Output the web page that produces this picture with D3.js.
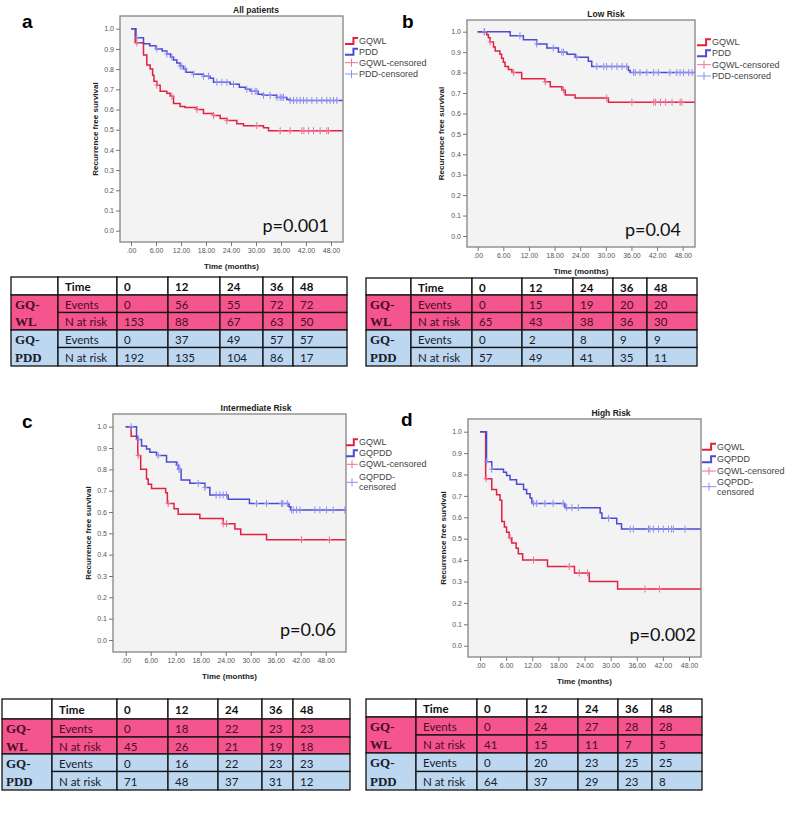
<!DOCTYPE html>
<html><head><meta charset="utf-8">
<script src="https://cdn.jsdelivr.net/npm/d3@7"></script>
<style>body{margin:0;background:#fff}</style>
</head><body>
<script>
// ---------------- DATA ----------------
const xTicks = [0, 6, 12, 18, 24, 30, 36, 42, 48];
const yTicks = [0, 0.1, 0.2, 0.3, 0.4, 0.5, 0.6, 0.7, 0.8, 0.9, 1.0];
const tableTimes = ["0", "12", "24", "36", "48"];
const titles = ["All patients", "Low Risk", "Intermediate Risk", "High Risk"];
const pValues = ["p=0.001", "p=0.04", "p=0.06", "p=0.002"];
const panelLetters = ["a", "b", "c", "d"];
const legendAB = ["GQWL", "PDD", "GQWL-censored", "PDD-censored"];
const legendCD = ["GQWL", "GQPDD", "GQWL-censored", "GQPDD-", "censored"];
const groupNames = [["GQ-", "WL"], ["GQ-", "PDD"]];
const rowNames = ["Events", "N at risk"];

// Panel a: All patients
const aWL_t = [1.0, 3.0, 3.8, 4.6, 5.2, 5.5, 6.2, 7.0, 8.6, 9.4, 10.2, 11.8, 13.0, 15.8, 17.4, 19.8, 21.4, 23.0, 25.4, 27.0, 31.8, 33.0];
const aWL_s = [0.93, 0.87, 0.82, 0.80, 0.77, 0.74, 0.72, 0.69, 0.68, 0.665, 0.63, 0.615, 0.61, 0.60, 0.58, 0.57, 0.555, 0.545, 0.53, 0.52, 0.51, 0.495];
const aWL_cens = [1.4, 6.2, 9.8, 15.8, 19.8, 23.0, 30.2, 35.8, 38.2, 41.0, 41.5, 42.6, 43.8, 45.4, 47.0, 47.4];
const aPD_t = [1.2, 3.0, 4.5, 6.0, 7.5, 8.6, 9.5, 10.2, 11.0, 11.8, 12.6, 13.2, 15.0, 17.4, 19.0, 19.8, 23.8, 26.0, 27.5, 28.6, 30.5, 31.8, 35.0, 37.4, 38.2];
const aPD_s = [0.955, 0.925, 0.915, 0.90, 0.89, 0.875, 0.86, 0.845, 0.83, 0.815, 0.80, 0.785, 0.775, 0.765, 0.755, 0.735, 0.725, 0.71, 0.70, 0.69, 0.675, 0.67, 0.66, 0.65, 0.645];
const aPD_cens = [1.4, 6.2, 8.6, 9.8, 11.8, 12.2, 13.0, 15.0, 17.4, 18.6, 20.6, 21.8, 23.0, 24.6, 27.8, 29.0, 29.8, 30.2, 31.8, 33.4, 35.0, 35.8, 36.2, 36.6, 38.2, 39.0, 39.8, 40.6, 41.4, 42.2, 43.4, 44.6, 45.8, 47.0, 47.8, 48.6, 49.4];
const aWL_events = [0, 56, 55, 72, 72], aWL_risk = [153, 88, 67, 63, 50];
const aPD_events = [0, 37, 49, 57, 57], aPD_risk = [192, 135, 104, 86, 17];

// Panel b: Low Risk
const bWL_t = [2.1, 2.5, 2.9, 3.7, 4.1, 5.2, 5.6, 6.0, 6.4, 7.2, 8.0, 10.3, 15.8, 17.0, 19.7, 20.5, 22.8, 30.6];
const bWL_s = [0.985, 0.97, 0.95, 0.925, 0.905, 0.89, 0.87, 0.85, 0.83, 0.815, 0.80, 0.77, 0.755, 0.73, 0.715, 0.69, 0.675, 0.655];
const bWL_cens = [1.5, 2.9, 8.4, 15.8, 20.1, 30.2, 36.1, 41.2, 41.6, 42.8, 44.0, 45.5, 47.4, 47.8];
const bPD_t = [7.6, 10.7, 13.8, 16.2, 18.9, 20.9, 22.8, 25.9, 26.7, 35.3, 35.7];
const bPD_s = [0.98, 0.96, 0.94, 0.92, 0.90, 0.89, 0.875, 0.855, 0.83, 0.81, 0.80];
const bPD_cens = [1.6, 9.9, 13.8, 17.7, 19.7, 20.1, 23.2, 27.9, 29.5, 30.2, 31.4, 32.6, 33.8, 34.9, 36.5, 36.9, 38.0, 39.6, 41.2, 42.3, 45.0, 46.6, 47.4, 48.2, 49.4, 50.2];
const bWL_events = [0, 15, 19, 20, 20], bWL_risk = [65, 43, 38, 36, 30];
const bPD_events = [0, 2, 8, 9, 9], bPD_risk = [57, 49, 41, 35, 11];

// Panel c: Intermediate Risk
const cWL_t = [1.3, 2.9, 3.6, 5.0, 5.4, 6.2, 9.6, 10.0, 11.6, 12.6, 17.8, 23.4, 26.2, 27.6, 33.8];
const cWL_s = [0.955, 0.865, 0.80, 0.755, 0.73, 0.71, 0.69, 0.64, 0.615, 0.59, 0.57, 0.545, 0.52, 0.495, 0.47];
const cWL_cens = [3.0, 10.2, 23.4, 24.2, 42.2, 48.9];
const cPD_t = [2.6, 3.8, 5.0, 5.8, 7.4, 9.8, 12.2, 12.6, 13.3, 15.4, 19.0, 20.2, 24.6, 29.7, 39.2, 39.6];
const cPD_s = [0.94, 0.91, 0.895, 0.88, 0.865, 0.835, 0.82, 0.80, 0.75, 0.735, 0.715, 0.68, 0.66, 0.64, 0.625, 0.61];
const cPD_cens = [1.3, 3.0, 7.8, 12.5, 12.8, 13.0, 17.4, 19.0, 21.7, 22.6, 23.4, 24.2, 31.4, 33.8, 37.4, 37.7, 38.8, 39.8, 40.2, 41.0, 41.8, 45.4, 46.6, 48.2, 49.8, 52.6];
const cWL_events = [0, 18, 22, 23, 23], cWL_risk = [45, 26, 21, 19, 18];
const cPD_events = [0, 16, 22, 23, 23], cPD_risk = [71, 48, 37, 31, 12];

// Panel d: High Risk
const dWL_t = [1.3, 2.7, 3.8, 4.6, 5.0, 5.6, 6.1, 6.7, 7.3, 8.3, 8.8, 9.8, 15.5, 21.7, 25.1, 31.6];
const dWL_s = [0.78, 0.73, 0.705, 0.68, 0.58, 0.555, 0.53, 0.505, 0.48, 0.455, 0.43, 0.40, 0.37, 0.34, 0.30, 0.265];
const dWL_cens = [1.4, 6.9, 12.3, 20.5, 22.8, 24.7, 37.9, 41.2];
const dPD_t = [1.5, 2.7, 5.4, 6.1, 6.9, 8.4, 10.0, 10.7, 11.5, 11.9, 19.5, 27.6, 28.0, 31.4, 32.5];
const dPD_s = [0.86, 0.825, 0.81, 0.795, 0.775, 0.755, 0.73, 0.71, 0.69, 0.665, 0.645, 0.62, 0.595, 0.57, 0.545];
const dPD_cens = [1.5, 2.7, 12.3, 13.0, 14.9, 16.8, 19.1, 19.9, 21.1, 22.6, 29.5, 34.5, 35.2, 38.7, 39.0, 39.8, 41.0, 42.1, 43.3, 44.0, 44.4, 47.1];
const dWL_events = [0, 24, 27, 28, 28], dWL_risk = [41, 15, 11, 7, 5];
const dPD_events = [0, 20, 23, 25, 25], dPD_risk = [64, 37, 29, 23, 8];

// ---------------- LAYOUT / STYLE ----------------
const RED = "#e2203f", BLUE = "#4a4ad2", RED_C = "#f06e98", BLUE_C = "#8f8ff2";
const PINK = "#f4558d", LBLUE = "#bed7f0";
const W = 793, H = 814;
const svg = d3.select("body").append("svg").attr("width", W).attr("height", H).style("display", "block");

const panels = [
  { box: [120, 16, 343, 242], xr: [131, 331], yr: [230.7, 28.7], letter: [22, 28], titleX: 256,
    legX: 345, legTX: 359, legY: [41, 51.7, 62.7, 74], legend: legendAB, ylabX: 95.5, pX: 329, pY: 232,
    wl: [aWL_t, aWL_s, aWL_cens], pd: [aPD_t, aPD_s, aPD_cens] },
  { box: [467, 20, 695, 247], xr: [477.7, 682.7], yr: [236, 31.7], letter: [402, 28], titleX: 606,
    legX: 697, legTX: 712, legY: [42.3, 53.3, 64.7, 76], legend: legendAB, ylabX: 441.5, pX: 681, pY: 236,
    wl: [bWL_t, bWL_s, bWL_cens], pd: [bPD_t, bPD_s, bPD_cens] },
  { box: [113, 414, 346, 652], xr: [125.7, 325.7], yr: [640, 426.7], letter: [22, 428], titleX: 256,
    legX: 346, legTX: 359, legY: [442.3, 453.3, 464.3, 477.3, 487.3], legend: legendCD, ylabX: 88.3, pX: 336, pY: 636,
    wl: [cWL_t, cWL_s, cWL_cens], pd: [cPD_t, cPD_s, cPD_cens] },
  { box: [468, 419, 701, 657], xr: [480, 689], yr: [645.7, 431.7], letter: [401, 426], titleX: 611,
    legX: 702, legTX: 717, legY: [446.7, 459.3, 471, 481.7, 491.7], legend: legendCD, ylabX: 443, pX: 696, pY: 641,
    wl: [dWL_t, dWL_s, dWL_cens], pd: [dPD_t, dPD_s, dPD_cens] }
];

const tables = [
  { cols: [11, 58, 117, 168, 220, 263, 293, 347], rows: [277, 295, 312.5, 330, 347.5, 366],
    data: [aWL_events, aWL_risk, aPD_events, aPD_risk] },
  { cols: [366, 411, 472, 522, 573, 613, 647, 697], rows: [278, 295, 312.5, 330, 347.5, 366],
    data: [bWL_events, bWL_risk, bPD_events, bPD_risk] },
  { cols: [2, 52, 117, 168, 218, 262, 293, 350], rows: [699, 719, 737, 754, 771.5, 790],
    data: [cWL_events, cWL_risk, cPD_events, cPD_risk] },
  { cols: [366, 416, 477, 527, 578, 618, 652, 702], rows: [699, 717, 735, 753, 771.5, 790],
    data: [dWL_events, dWL_risk, dPD_events, dPD_risk] }
];

const xFmt = d => d === 0 ? ".00" : d.toFixed(2);
const yFmt = d3.format(".1f");

function survAt(ts, ss, t) {
  let s = 1;
  for (let i = 0; i < ts.length; i++) if (ts[i] <= t) s = ss[i];
  return s;
}

panels.forEach((p, i) => {
  const [l, t, r, b] = p.box;
  const g = svg.append("g");
  const x = d3.scaleLinear().domain([0, 48]).range(p.xr);
  const y = d3.scaleLinear().domain([0, 1]).range(p.yr);
  const tEnd = x.invert(r);

  g.append("rect").attr("x", l).attr("y", t).attr("width", r - l).attr("height", b - t).attr("fill", "#f3f3f3");

  const clipId = "clip" + i;
  svg.append("clipPath").attr("id", clipId).append("rect").attr("x", l).attr("y", t).attr("width", r - l).attr("height", b - t);
  const pg = g.append("g").attr("clip-path", `url(#${clipId})`);

  const line = d3.line().x(d => x(d[0])).y(d => y(d[1])).curve(d3.curveStepAfter);
  [[p.wl, RED, RED_C], [p.pd, BLUE, BLUE_C]].forEach(([ser, col, ccol]) => {
    const [ts, ss, cs] = ser;
    const pts = [[0, 1]].concat(ts.map((tt, k) => [tt, ss[k]]));
    pts.push([tEnd, ss[ss.length - 1]]);
    pg.append("path").attr("d", line(pts)).attr("fill", "none").attr("stroke", col).attr("stroke-width", 1.5);
    cs.forEach(c => {
      const cx = x(c), cy = y(survAt(ts, ss, c));
      pg.append("line").attr("x1", cx).attr("x2", cx).attr("y1", cy - 3.5).attr("y2", cy + 3.5).attr("stroke", ccol).attr("stroke-width", 1);
      pg.append("line").attr("x1", cx - 2.5).attr("x2", cx + 2.5).attr("y1", cy).attr("y2", cy).attr("stroke", ccol).attr("stroke-width", 1);
    });
  });

  g.append("rect").attr("x", l).attr("y", t).attr("width", r - l).attr("height", b - t)
    .attr("fill", "none").attr("stroke", "#8c8c8c").attr("stroke-width", 1.4);

  const gx = g.append("g").attr("transform", `translate(0,${b})`)
    .call(d3.axisBottom(x).tickValues(xTicks).tickFormat(xFmt).tickSize(4).tickPadding(2));
  const gy = g.append("g").attr("transform", `translate(${l},0)`)
    .call(d3.axisLeft(y).tickValues(yTicks).tickFormat(yFmt).tickSize(4).tickPadding(2));
  [gx, gy].forEach(ax => {
    ax.select(".domain").remove();
    ax.selectAll(".tick line").attr("stroke", "#777");
    ax.selectAll(".tick text").attr("fill", "#555").style("font-family", "'Liberation Sans Narrow','Liberation Sans',Arial,sans-serif").style("font-size", "7px");
  });

  g.append("text").attr("x", p.titleX).attr("y", t - 3).attr("text-anchor", "middle")
    .style("font-family", "'Liberation Sans',Arial,sans-serif").style("font-size", "8.5px").style("font-weight", "bold").attr("fill", "#222")
    .text(titles[i]);
  g.append("text").attr("x", (l + r) / 2).attr("y", b + 27).attr("text-anchor", "middle")
    .style("font-family", "'Liberation Sans',Arial,sans-serif").style("font-size", "8px").style("font-weight", "bold").attr("fill", "#222")
    .text("Time (months)");
  g.append("text").attr("transform", `translate(${p.ylabX},${(t + b) / 2}) rotate(-90)`).attr("text-anchor", "middle")
    .attr("dominant-baseline", "central")
    .style("font-family", "'Liberation Sans',Arial,sans-serif").style("font-size", "8px").style("font-weight", "bold").attr("fill", "#222")
    .text("Recurrence free survival");
  g.append("text").attr("x", p.letter[0]).attr("y", p.letter[1])
    .style("font-family", "'Liberation Sans',Arial,sans-serif").style("font-size", "19px").style("font-weight", "bold").attr("fill", "#000")
    .text(panelLetters[i]);
  g.append("text").attr("x", p.pX).attr("y", p.pY).attr("text-anchor", "end")
    .style("font-family", "Lato,'Open Sans',sans-serif").style("font-size", "18px").attr("fill", "#111")
    .text(pValues[i]);

  const lg = g.append("g");
  const lx = p.legX, lw = p.legTX - p.legX - 1;
  const legStyle = s => s.style("font-family", "'Liberation Sans',Arial,sans-serif").style("font-size", "9px").attr("fill", "#444").attr("dominant-baseline", "central");
  [[RED, 0], [BLUE, 1]].forEach(([col, k]) => {
    const yy = p.legY[k];
    lg.append("path").attr("d", `M${lx},${yy + 3}H${lx + lw * 0.65}V${yy - 3}H${lx + lw}`)
      .attr("fill", "none").attr("stroke", col).attr("stroke-width", 2);
  });
  const cY = [p.legY[2], p.legY.length > 4 ? (p.legY[3] + p.legY[4]) / 2 : p.legY[3]];
  [[RED_C, cY[0]], [BLUE_C, cY[1]]].forEach(([col, yy]) => {
    lg.append("line").attr("x1", lx).attr("x2", lx + lw).attr("y1", yy).attr("y2", yy).attr("stroke", col).attr("stroke-width", 1);
    lg.append("line").attr("x1", lx + lw / 2).attr("x2", lx + lw / 2).attr("y1", yy - 4).attr("y2", yy + 4).attr("stroke", col).attr("stroke-width", 1);
  });
  p.legend.forEach((txt, k) => {
    lg.append("text").attr("x", p.legTX).attr("y", p.legY[k]).text(txt).call(legStyle);
  });
});

// ---------------- TABLES ----------------
tables.forEach(tb => {
  const g = svg.append("g");
  const C = tb.cols, R = tb.rows;
  const cellFont = s => s.style("font-family", "Lato,'Open Sans',sans-serif").style("font-size", "11.5px").attr("dominant-baseline", "central");
  for (let c = 0; c < 7; c++) {
    g.append("rect").attr("x", C[c]).attr("y", R[0]).attr("width", C[c + 1] - C[c]).attr("height", R[1] - R[0])
      .attr("fill", "#fff").attr("stroke", "#111").attr("stroke-width", 1.3);
    if (c >= 1) {
      g.append("text").attr("x", C[c] + 7).attr("y", (R[0] + R[1]) / 2 + 0.5)
        .text(c === 1 ? "Time" : tableTimes[c - 2]).call(cellFont).style("font-weight", "bold").attr("fill", "#111");
    }
  }
  for (let gi = 0; gi < 2; gi++) {
    const fill = gi === 0 ? PINK : LBLUE;
    const tcol = gi === 0 ? "#4a0c26" : "#15202e";
    const r0 = 1 + gi * 2;
    g.append("rect").attr("x", C[0]).attr("y", R[r0]).attr("width", C[1] - C[0]).attr("height", R[r0 + 2] - R[r0])
      .attr("fill", fill).attr("stroke", "#111").attr("stroke-width", 1.3);
    groupNames[gi].forEach((nm, k) => {
      g.append("text").attr("x", C[0] + 4).attr("y", (R[r0 + k] + R[r0 + k + 1]) / 2 + 0.5)
        .style("font-family", "'Liberation Serif','DejaVu Serif',serif").style("font-size", "13px").style("font-weight", "bold")
        .attr("dominant-baseline", "central").attr("fill", tcol).text(nm);
    });
    for (let k = 0; k < 2; k++) {
      const rr = r0 + k;
      const vals = tb.data[gi * 2 + k];
      for (let c = 1; c < 7; c++) {
        g.append("rect").attr("x", C[c]).attr("y", R[rr]).attr("width", C[c + 1] - C[c]).attr("height", R[rr + 1] - R[rr])
          .attr("fill", fill).attr("stroke", "#111").attr("stroke-width", 1.3);
        g.append("text").attr("x", C[c] + 7).attr("y", (R[rr] + R[rr + 1]) / 2 + 0.5)
          .text(c === 1 ? rowNames[k] : vals[c - 2]).call(cellFont).attr("fill", tcol);
      }
    }
  }
});
</script>
</body></html>
